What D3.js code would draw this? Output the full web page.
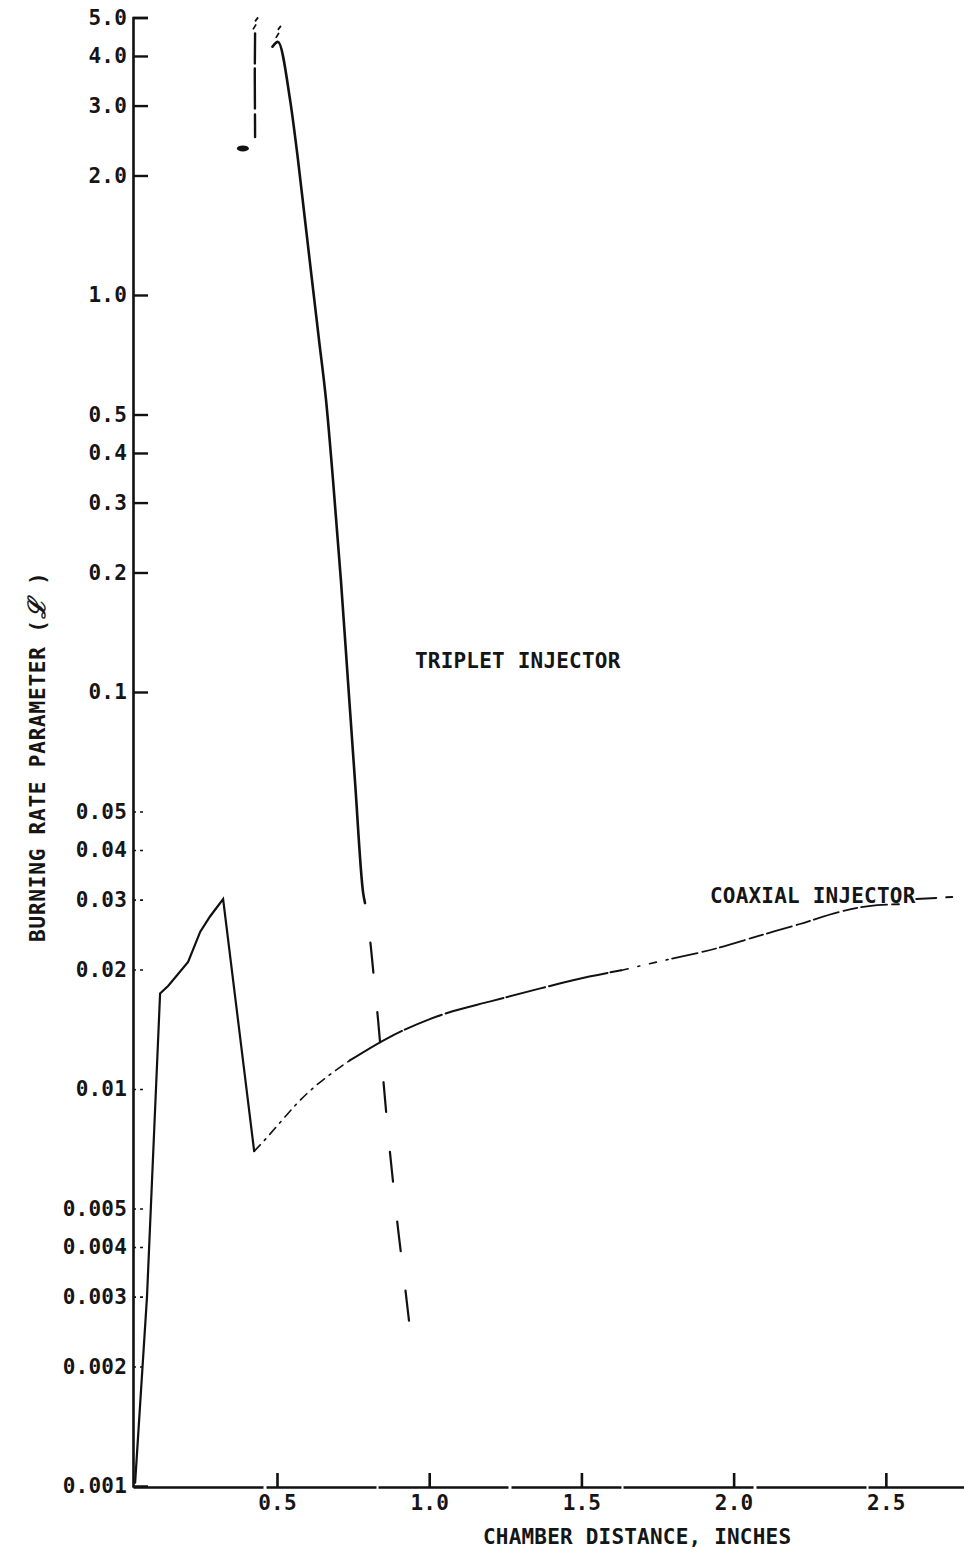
<!DOCTYPE html>
<html>
<head>
<meta charset="utf-8">
<script src="https://cdn.jsdelivr.net/npm/d3@7"></script>
<style>
  body { margin: 0; background: #fff; }
  text { font-family: "DejaVu Sans Mono", monospace; font-size: 21px; letter-spacing: 0.2px; fill: #151515; }
</style>
</head>
<body>
<script>
// values (x in inches, y = burning rate parameter)
const yMajor = [5, 4, 3, 2, 1, 0.5, 0.4, 0.3, 0.2, 0.1]
const yMinor = [0.05, 0.04, 0.03, 0.02, 0.01, 0.005, 0.004, 0.003, 0.002]
const yLabels = ['5.0', '4.0', '3.0', '2.0', '1.0', '0.5', '0.4', '0.3', '0.2', '0.1',
  '0.05', '0.04', '0.03', '0.02', '0.01', '0.005', '0.004', '0.003', '0.002', '0.001']
const xTicks = [0.5, 1.0, 1.5, 2.0, 2.5]

const tripletSolid = [[0.485, 4.22], [0.503, 4.34], [0.543, 3.10], [0.569, 2.19], [0.592, 1.545],
  [0.615, 1.09], [0.638, 0.771], [0.661, 0.545], [0.684, 0.342], [0.710, 0.191],
  [0.733, 0.107], [0.756, 0.060], [0.783, 0.0312], [0.789, 0.0294]]
const tripletDashed = [[0.789, 0.0294], [0.806, 0.0237], [0.819, 0.0188], [0.832, 0.01493],
  [0.845, 0.01148], [0.858, 0.00885], [0.871, 0.00693], [0.884, 0.00557], [0.898, 0.00442],
  [0.914, 0.00350], [0.940, 0.00237]]
const tripletLeft = [[0.428, 4.56], [0.427, 3.6], [0.428, 2.50]]

const coaxRise = [[0.034, 0.00102], [0.073, 0.0030], [0.116, 0.0174], [0.143, 0.0182],
  [0.208, 0.0209], [0.248, 0.0249], [0.280, 0.0272], [0.323, 0.0301], [0.425, 0.00697]]
const coaxDashDot = [[0.425, 0.00697], [0.444, 0.00722], [0.598, 0.00973], [0.739, 0.0118]]
const coaxSolid = [[0.739, 0.0118], [0.861, 0.0134], [1.002, 0.0150], [1.077, 0.0157],
  [1.198, 0.0166], [1.362, 0.0179], [1.526, 0.0192], [1.631, 0.0199]]
const coaxDotted = [[1.631, 0.0199], [1.690, 0.0204], [1.798, 0.0213]]
const coaxDashed = [[1.798, 0.0213], [1.943, 0.0226], [2.074, 0.0242], [2.215, 0.0260],
  [2.346, 0.0279], [2.444, 0.0289], [2.543, 0.0292]]
const coaxTail = [[2.60, 0.0301], [2.733, 0.0305]]

const W = 964, H = 1555
const svg = d3.select('body').append('svg').attr('width', W).attr('height', H)

const x = d3.scaleLinear().domain([0.027, 2.76]).range([133, 965])
const y = d3.scaleLog().domain([0.001, 5]).range([1486, 17.5])

const allTicks = yMajor.concat(yMinor, [0.001])
const labelOf = (d) => yLabels[allTicks.indexOf(d)]

// y axis: major ticks pointing inward
const yAxis = d3.axisLeft(y)
  .tickValues(yMajor.concat([0.001]))
  .tickSize(-15)
  .tickPadding(6)
  .tickFormat(labelOf)
const gy = svg.append('g').attr('transform', 'translate(133,0)').call(yAxis)
gy.select('.domain').attr('stroke', '#111').attr('stroke-width', 2.6)
gy.selectAll('.tick line').attr('stroke', '#111').attr('stroke-width', 2.4)
gy.selectAll('.tick').filter((d) => d === 0.001).select('line').remove()

const yMinorAxis = d3.axisLeft(y)
  .tickValues(yMinor)
  .tickSize(-12)
  .tickPadding(6)
  .tickFormat(labelOf)
const gym = svg.append('g').attr('transform', 'translate(133,0)').call(yMinorAxis)
gym.select('.domain').remove()
gym.selectAll('.tick line').attr('stroke', '#111').attr('stroke-width', 1.6)
  .attr('stroke-dasharray', '3,4')

// x axis
const xAxis = d3.axisBottom(x)
  .tickValues(xTicks)
  .tickSize(-14)
  .tickSizeOuter(0)
  .tickPadding(8)
  .tickFormat(d3.format('.1f'))
const gx = svg.append('g').attr('transform', 'translate(0,1487)').call(xAxis)
gx.select('.domain').attr('stroke', '#111').attr('stroke-width', 2.4)
  .attr('stroke-dasharray', '130,3,110,2')
gx.selectAll('.tick line').attr('stroke', '#111').attr('stroke-width', 2.6)

svg.selectAll('.tick text')
  .style('font-family', '"DejaVu Sans Mono", monospace')
  .style('font-size', '21px')
  .style('font-weight', 'bold')
  .attr('fill', '#151515')

const smooth = d3.line().x((d) => x(d[0])).y((d) => y(d[1])).curve(d3.curveMonotoneX)
const straight = d3.line().x((d) => x(d[0])).y((d) => y(d[1]))

function draw (data, gen, width, dash, offset) {
  svg.append('path').datum(data)
    .attr('d', gen)
    .attr('fill', 'none')
    .attr('stroke', '#111')
    .attr('stroke-width', width)
    .attr('stroke-linecap', 'round')
    .attr('stroke-dasharray', dash || null)
    .attr('stroke-dashoffset', offset || 0)
}

// triplet injector
draw(tripletSolid, smooth, 2.6)
draw(tripletDashed, smooth, 2.2, '30,40', 30)
draw(tripletLeft, straight, 2.4, '30,5,40,6')
// break marks at the top of the triplet curve
svg.selectAll('.brk').data([tripletLeft[0], tripletSolid[1]]).enter().append('path')
  .attr('d', (d) => `M${x(d[0]) - 2},${y(d[1]) - 4} l3,-5 M${x(d[0])},${y(d[1]) - 12} l3,-4`)
  .attr('stroke', '#111').attr('stroke-width', 1.8).attr('fill', 'none')
svg.append('ellipse')
  .attr('cx', x(0.388)).attr('cy', y(2.34)).attr('rx', 6).attr('ry', 3).attr('fill', '#111')

// coaxial injector
draw(coaxRise, straight, 2.2)
draw(coaxDashDot, smooth, 1.6, '9,6,2,6')
draw(coaxSolid, smooth, 2.0, '60,3,40,4')
draw(coaxDotted, smooth, 1.6, '7,10,2,10')
draw(coaxDashed, smooth, 1.8, '26,5,14,4')
draw(coaxTail, straight, 2.0, '20,10,6,30')

// annotations
svg.append('text').attr('x', 415).attr('y', 668).text('TRIPLET INJECTOR')
svg.append('text').attr('x', 710).attr('y', 903).text('COAXIAL INJECTOR')
svg.append('text').attr('x', 483).attr('y', 1544).text('CHAMBER DISTANCE, INCHES')
const yl = svg.append('text')
  .attr('transform', 'translate(45,942) rotate(-90)')
  .style('letter-spacing', '0.8px')
yl.append('tspan').text('BURNING RATE PARAMETER (')
yl.append('tspan').style('font-family', '"DejaVu Serif", serif').style('font-weight', 'bold')
  .style('font-style', 'italic').style('font-size', '24px').text('ℒ')
yl.append('tspan').text(' )')
svg.selectAll('svg > text').style('font-weight', 'bold')
</script>
</body>
</html>
